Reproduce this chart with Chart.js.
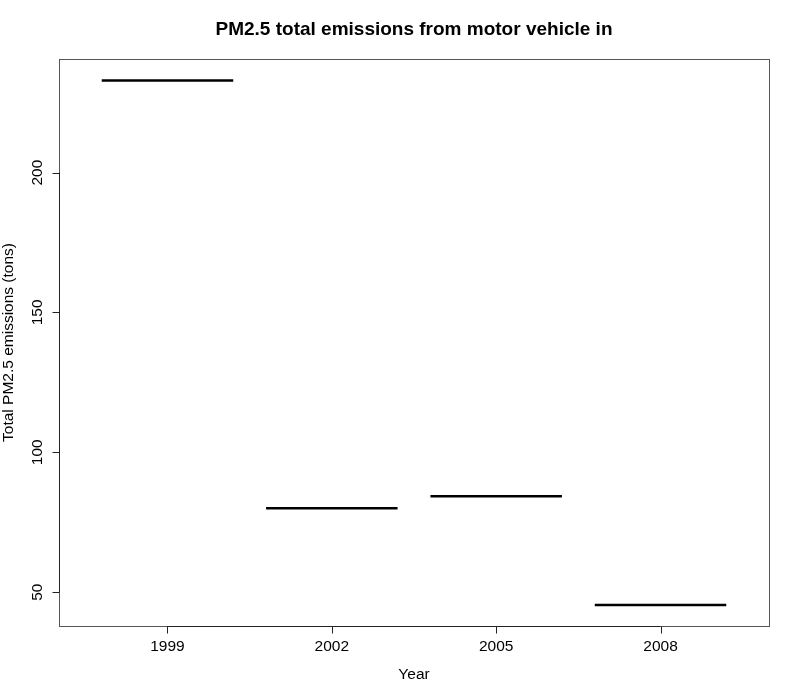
<!DOCTYPE html>
<html>
<head>
<meta charset="utf-8">
<script src="https://cdn.jsdelivr.net/npm/chart.js@4.4.0/dist/chart.umd.min.js"></script>
<style>
  html, body { margin: 0; padding: 0; background: #fff; }
  canvas { display: block; }
</style>
</head>
<body>
<canvas id="c" width="800" height="700"></canvas>
<script>
// data
var years = ['1999', '2002', '2005', '2008'];
var emissions = [232.9, 80.0, 84.3, 45.4];
var yTicks = [50, 100, 150, 200];

var FONT = '"Liberation Sans", Arial, sans-serif';
var BOX_HALF = 0.4; // R boxplot default width 0.8

// one flat segment per year (boxplot of a single value = median line)
var datasets = years.map(function(y, i) {
  return {
    label: y,
    data: [{ x: i + 1 - BOX_HALF, y: emissions[i] }, { x: i + 1 + BOX_HALF, y: emissions[i] }],
    borderColor: '#000',
    borderWidth: 2.6,
    pointRadius: 0,
    showLine: true,
    fill: false,
    clip: false
  };
});

/** base-graphics style frame, axes and text */
var rStyle = {
  id: 'rStyle',
  afterDraw: function(chart) {
    var ctx = chart.ctx, a = chart.chartArea;
    var xs = chart.scales.x, ys = chart.scales.y;
    ctx.save();
    // box
    ctx.strokeStyle = '#555';
    ctx.lineWidth = 1;
    ctx.strokeRect(Math.round(a.left) + 0.5, Math.round(a.top) + 0.5,
      Math.round(a.right - a.left), Math.round(a.bottom - a.top));
    // x axis: line from first to last tick, ticks outward
    ctx.strokeStyle = '#222';
    var by = Math.round(a.bottom) + 0.5;
    ctx.beginPath();
    ctx.moveTo(xs.getPixelForValue(1), by);
    ctx.lineTo(xs.getPixelForValue(years.length), by);
    years.forEach(function(y, i) {
      var px = Math.round(xs.getPixelForValue(i + 1)) + 0.5;
      ctx.moveTo(px, by);
      ctx.lineTo(px, by + 7);
    });
    ctx.stroke();
    // y axis
    var lx = Math.round(a.left) + 0.5;
    ctx.beginPath();
    ctx.moveTo(lx, ys.getPixelForValue(yTicks[0]));
    ctx.lineTo(lx, ys.getPixelForValue(yTicks[yTicks.length - 1]));
    yTicks.forEach(function(t) {
      var py = Math.round(ys.getPixelForValue(t)) + 0.5;
      ctx.moveTo(lx, py);
      ctx.lineTo(lx - 7, py);
    });
    ctx.stroke();

    ctx.fillStyle = '#000';
    ctx.textAlign = 'center';
    ctx.textBaseline = 'middle';
    ctx.font = '15.5px ' + FONT;
    years.forEach(function(y, i) {
      ctx.fillText(y, xs.getPixelForValue(i + 1), 647);
    });
    ctx.fillText('Year', (a.left + a.right) / 2, 675);
    yTicks.forEach(function(t) {
      ctx.save();
      ctx.translate(38, ys.getPixelForValue(t));
      ctx.rotate(-Math.PI / 2);
      ctx.fillText(String(t), 0, 0);
      ctx.restore();
    });
    ctx.save();
    ctx.translate(9, (a.top + a.bottom) / 2);
    ctx.rotate(-Math.PI / 2);
    ctx.fillText('Total PM2.5 emissions (tons)', 0, 0);
    ctx.restore();
    ctx.font = 'bold 19px ' + FONT;
    ctx.fillText('PM2.5 total emissions from motor vehicle in', (a.left + a.right) / 2, 30);
    ctx.restore();
  }
};

new Chart(document.getElementById('c'), {
  type: 'line',
  data: { datasets: datasets },
  options: {
    responsive: false,
    animation: false,
    layout: { padding: { top: 59, right: 31, left: 0, bottom: 0 } },
    plugins: { legend: { display: false }, tooltip: { enabled: false }, title: { display: false } },
    scales: {
      x: {
        type: 'linear', min: 0.34, max: 4.66,
        ticks: { display: false }, grid: { display: false }, border: { display: false },
        afterFit: function(s) { s.height = 74; }
      },
      y: {
        type: 'linear', min: 37.9, max: 240.6,
        ticks: { display: false }, grid: { display: false }, border: { display: false },
        afterFit: function(s) { s.width = 59; }
      }
    }
  },
  plugins: [rStyle]
});
</script>
</body>
</html>
